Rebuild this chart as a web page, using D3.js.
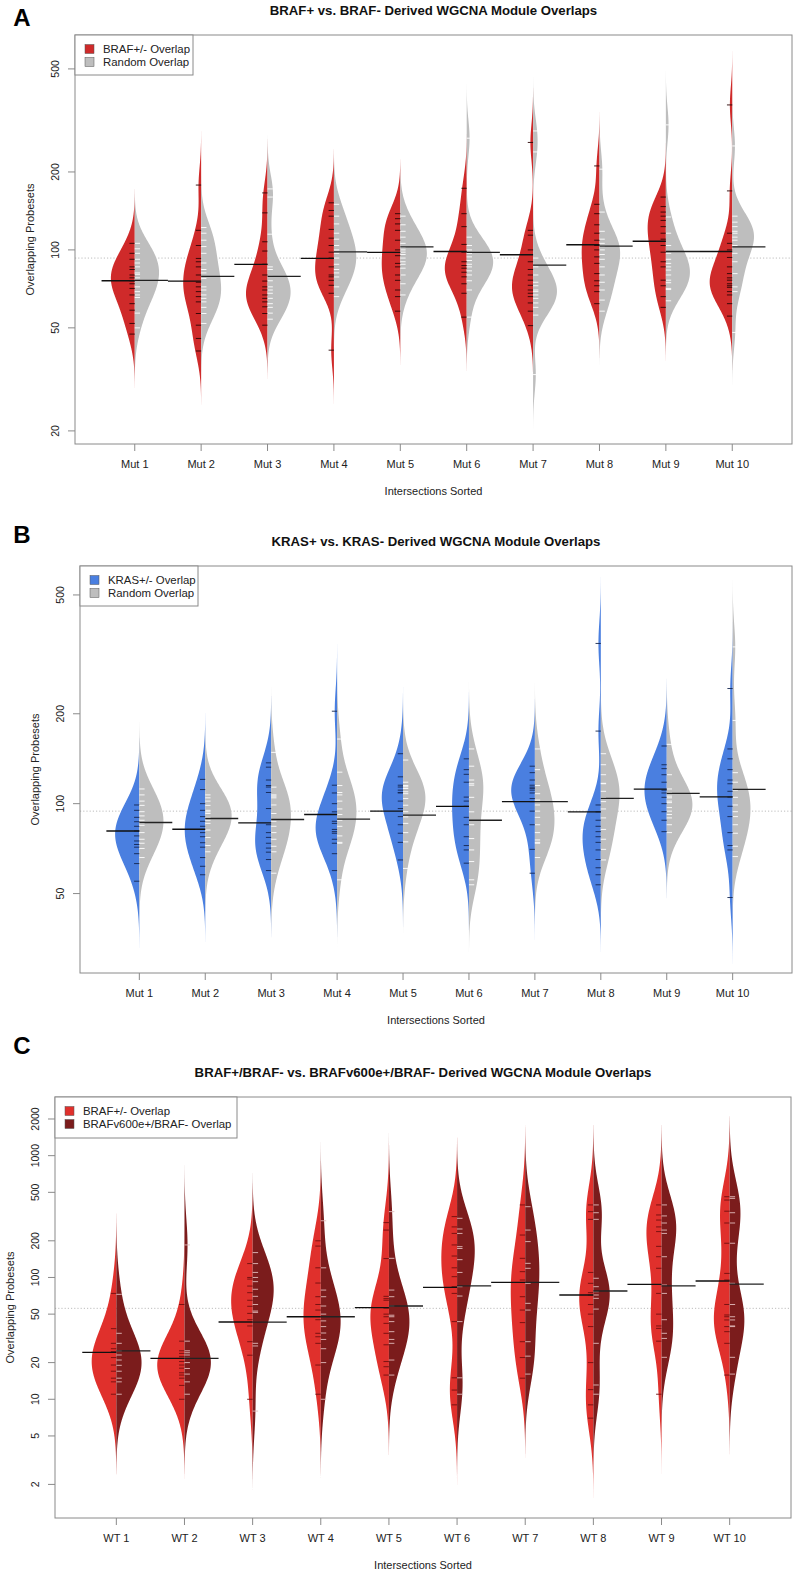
<!DOCTYPE html>
<html><head><meta charset="utf-8">
<script src="https://cdn.jsdelivr.net/npm/d3@7"></script>
<style>
body{margin:0;background:#fff;}
text{font-family:"Liberation Sans",Arial,Helvetica,sans-serif;fill:#222;}
</style>
</head><body>
<svg id="chart" width="795" height="1574"></svg>
<script>
// ---------------- DATA ----------------
const mutCats = ["Mut 1","Mut 2","Mut 3","Mut 4","Mut 5","Mut 6","Mut 7","Mut 8","Mut 9","Mut 10"];
const wtCats  = ["WT 1","WT 2","WT 3","WT 4","WT 5","WT 6","WT 7","WT 8","WT 9","WT 10"];
const yTicksA = [20,50,100,200,500];
const yTicksB = [50,100,200,500];
const yTicksC = [2,5,10,20,50,100,200,500,1000,2000];

// Panel A: BRAF+/- overlap vs random overlap
const brafA = [
 [106,97,92,86,84,80,78,76,74,71,67,62,58.5,52,47.3],
 [178,119,104,92.7,90,86,80,75,72,69,66,63,56.8,51.2,45.5,40.7],
 [166,139,107.5,99,88,80,75.8,72,70,67,65,63,60.3,56.8,51.2],
 [152,142,135,120,111,104,98,93,86,80,78.7,76.3,73,68,41],
 [138,132,126,119,109,100,95,88.7,86,80,76.3,70,66,58],
 [173,138,123,105,98,90,87,85,82,78.7,74,68,55],
 [260,119,114,100,90,84,80,76.4,73,70,68,66,62.4,58,51],
 [211,150,138,125,116,109,104,100,94,88.7,81,76,72.7,69,62],
 [160,147,140,135,130,123,116,110,104,98,90,86,76.4,72.7,66,60],
 [363,169,116,106,100,93.5,86,81,78,76.4,74,72.7,71.7,69,67,62,55.5]
];
const randomA = [
 [106,101,97,92,89,86,81.5,80.5,78,72,69,67,65.5,57,50],
 [122,116,109,103,97,89,84,81.5,77.6,72,70,67,65,63,60,56.8,52],
 [172,160,115,86,84,79,76,72,70,68,65,62,60,57,54],
 [150,135,126,116,110,104,100,97,93,88,84,81.5,78.6,72,66],
 [135,125,118,112,106,102,100,98,96,93,90,88,85,80,74,67],
 [270,112,104,100,97,94,91,88,86,83,80,76,70,55],
 [288,239,93,86,80,75,72.7,70,69,67,65,62.4,60,56,33],
 [205,140,118,110,106,103,100,96,92,86,80,75,70,64,58],
 [304,134,116,104,97,92,88.7,86,83.6,80,76.4,74.7,71,70.3,63.6],
 [252,135,128,123,118,116,112,109,104,97,90,81,72,69,48]
];
const brafMeanA   = [76,75.8,88,92.7,97.8,98.6,95.8,104.7,108,98.6];
const randomMeanA = [76.3,79,79,98.3,102.8,97.8,87.4,103.5,98.6,102.8];
const overallA = 93;
const legendA = ["BRAF+/- Overlap","Random Overlap"];

// Panel B: KRAS+/- overlap vs random overlap
const krasB = [
 [99,95,90,87,84,81,78,75,73,71.5,68,63,55],
 [120.6,111.5,100,95,90.5,87.3,84,80,77.5,74,71.5,66,61.7,57.8],
 [137,132.5,120,115,113.7,109,96.3,85,80,77.1,73.7,71,68.8,65,59.7],
 [204,115.3,108.6,100,93.9,87.3,85.9,82,80.6,79.6,76,73.7,68,59.7],
 [147,123,115.3,113.7,111,109,108.6,102,96.3,90.5,85,79.6,74.2,64.8],
 [141.3,130,125.4,118,105.2,102,98,90,85,77.5,72.4,70,63.2],
 [133.5,127,120,115.3,113.6,112.5,111,108.6,104,101.6,94.4,85,70.3,58.5],
 [344,175,99,93.9,88,84,80.6,77.5,74.2,70,65,61,57.8,53.5],
 [156,135,131,125,118,111,108.6,105,100,94,88,80.6],
 [243,152.5,141.3,130,120,116.6,110,105.2,98,90.5,80,72.4,70,48.5]
];
const randomB = [
 [112,107,102,98.7,94,91,88,86,84.6,80,76,73.7,70.8,66],
 [107,104.6,102,98.7,95,93.9,92.7,90,88,85.9,81.6,77,72.4,69],
 [148.5,113.6,107,106,104.6,99,92.7,87.3,84,80,76,72,69,58.5],
 [164.6,127.5,115,109,107,102,96,92,88,84,78,74.2,73.7,55.6],
 [140,118,115,113.9,112.4,109.6,108,104,98.8,94,90.3,85.9,80,74.5,60.7],
 [152.5,133.5,120,116.6,115.3,105,93.9,85,76.4,70,64,55.6,53.5],
 [152.5,130,115,108,102.8,99,94.4,90,85,80,75.6,74.2,73.7,66],
 [147,135,125,117,116.6,110,104.6,101.6,96,89.6,82,76,70.3,64.8],
 [158,125,112,108.6,106,104.6,102,100.8,97,94.4,92,89.6,85,80],
 [335,190,127,118,111,105,99,94,90.5,85,79.6,72,66.5]
];
const krasMeanB   = [81,82.1,86.3,92,94.4,98,101.6,93.9,111.8,105.4];
const randomMeanB = [86.5,89.2,88.5,88.7,91.5,88,101.6,104.1,108.2,111.6];
const overallB = 94.4;
const legendB = ["KRAS+/- Overlap","Random Overlap"];

// Panel C: BRAF+/- overlap vs BRAFv600e+/BRAF- overlap
const brafC = [
 [74,38,28.8,26,24.6,22,19.1,17,14.9,13.9,11],
 [60,30,25,23.8,22.5,21.7,20.4,19.1,18,16.5,15.8,14.9,13,10],
 [130,100,97,85,75,65,58,50.7,45,40,29.7,23,10],
 [200,181,120,90,69.5,60,54,45,34.8,32.6,28.8,19.1,11],
 [282,245,143,70,67,65,56,50,47.6,42,34.8,28,20.4,18.5,15.8],
 [316,260,230,185,150,120,101.5,84,74,43.4,15,11.9,9],
 [394,223,143.6,111.6,95.3,69.5,54,42.6,29.7,22,14.9],
 [394,347,300,110,89.5,75,71.8,60,50,39.5,20,12,9,7],
 [394,326,296,260,238,180,148,119,74,50,40,38.2,30,11],
 [460,432,350,280,191,108,95.3,60,49.2,47.6,44.8,39.5,35.9,28.8,15.8]
];
const v600C = [
 [72.7,34.8,28.8,25,23.1,21,19,17,14.9,13.9,11],
 [185,30,25,24.1,23.1,21.7,20,17.9,16.1,13.9,11],
 [160,130,110,100,92.4,80,70,60,53,51.7,28.8,27.4,8],
 [292,120,78.8,69.5,58.3,50,44,39.5,35,31,26,20,10],
 [347,143.6,78.8,69.5,58.3,49,47.6,43.4,35.9,31,28.8,21,15.8],
 [306,250,230,179,173,140,110,84,70.4,43.4,15,11],
 [381,245,197,130.6,118.9,89.5,61.3,54,29.7,22.6,16.1],
 [394,340,300,98.5,84,76.4,71.8,67.4,55,28.8,13.1,11],
 [394,320,280,245,230,148,86.7,74,45,34.8,31.6,22.1],
 [460,446,340,280,191,89.5,60,47.6,44.8,40,39.5,22.1,16.1]
];
const brafMeanC = [24.3,21.7,43.1,47.6,56.5,83,91.3,71.8,87.8,93.5];
const v600MeanC = [25,21.7,43,47.6,58.3,85.2,91.3,77.4,85.2,88.3];
const overallC = 55.8;
const legendC = ["BRAF+/- Overlap","BRAFv600e+/BRAF- Overlap"];

// ---------------- LAYOUT / STYLE ----------------
const panels = [
 {letter:"A", letterY:18, title:"BRAF+ vs. BRAF- Derived WGCNA Module Overlaps",
  cats:mutCats, L:brafA, R:randomA, Lm:brafMeanA, Rm:randomMeanA, overall:overallA,
  ticks:yTicksA, legend:legendA, box:{l:75,t:35,r:792,b:444}, yDom:[17.8,676], bw:0.07,
  fill:["#cf2a2a","#bebebe"], tick:["#2a0505","#ffffff"], legW:118, legH:40},
 {letter:"B", letterY:535, title:"KRAS+ vs. KRAS- Derived WGCNA Module Overlaps",
  cats:mutCats, L:krasB, R:randomB, Lm:krasMeanB, Rm:randomMeanB, overall:overallB,
  ticks:yTicksB, legend:legendB, box:{l:80,t:566,r:792,b:973}, yDom:[27.1,625], bw:0.075,
  fill:["#4a7fe0","#bebebe"], tick:["#142650","#ffffff"], legW:118, legH:40},
 {letter:"C", letterY:1046, title:"BRAF+/BRAF- vs. BRAFv600e+/BRAF- Derived WGCNA Module Overlaps",
  cats:wtCats, L:brafC, R:v600C, Lm:brafMeanC, Rm:v600MeanC, overall:overallC,
  ticks:yTicksC, legend:legendC, box:{l:55,t:1097,r:791,b:1518}, yDom:[1.06,3031], bw:0.22,
  fill:["#e0302c","#7b1c1c"], tick:["#6e0f0f","#e2bcbc"], legW:182, legH:41}
];

const svg = d3.select("#chart");
const axisCol = "#8a8a8a";

function kde(vals, h){
  const t = vals.map(v=>Math.log10(v));
  const lo = d3.min(t)-3*h, hi = d3.max(t)+3*h, n = 240;
  const out = [];
  for(let i=0;i<=n;i++){
    const x = lo+(hi-lo)*i/n;
    let s = 0;
    for(const ti of t){ const z=(x-ti)/h; s+=Math.exp(-0.5*z*z); }
    out.push([x, s/(t.length*h*Math.sqrt(2*Math.PI))]);
  }
  return out;
}

panels.forEach(p=>{
  const b = p.box;
  const g = svg.append("g");
  const x = d3.scaleLinear().domain([0.1,10.9]).range([b.l,b.r]);
  const y = d3.scaleLog().domain(p.yDom).range([b.b,b.t]);
  const unit = x(1)-x(0);

  // letter & title
  g.append("text").attr("x",22).attr("y",p.letterY).attr("dy","0.35em")
   .attr("text-anchor","middle").style("font-size","24px").style("font-weight","bold").style("fill","#000").text(p.letter);
  g.append("text").attr("x",(b.l+b.r)/2).attr("y",b.t-25).attr("dy","0.35em")
   .attr("text-anchor","middle").style("font-size","13.2px").style("font-weight","bold").style("fill","#111").text(p.title);

  // overall dotted line
  g.append("line").attr("x1",b.l).attr("x2",b.r).attr("y1",y(p.overall)).attr("y2",y(p.overall))
   .attr("stroke","#bdbdbd").attr("stroke-width",1).attr("stroke-dasharray","1.2,2");

  // densities
  const dens = p.cats.map((c,i)=>[kde(p.L[i],p.bw), kde(p.R[i],p.bw)]);
  const maxD = d3.max(dens.flat(), d=>d3.max(d, e=>e[1]));
  const half = 0.4;

  p.cats.forEach((c,i)=>{
    const cx = x(i+1);
    [0,1].forEach(s=>{
      const sign = s===0?-1:1;
      const d = dens[i][s];
      const pts = [[cx, y(Math.pow(10,d[0][0]))]]
        .concat(d.map(e=>[cx+sign*e[1]/maxD*half*unit, y(Math.pow(10,e[0]))]))
        .concat([[cx, y(Math.pow(10,d[d.length-1][0]))]]);
      g.append("path").attr("d", d3.line()(pts)+"Z").attr("fill",p.fill[s]).attr("stroke","none");
    });
  });
  // data ticks
  p.cats.forEach((c,i)=>{
    const cx = x(i+1);
    [[p.L[i],-1,0],[p.R[i],1,1]].forEach(([vals,sign,s])=>{
      g.selectAll(null).data(vals).enter().append("line")
        .attr("x1",cx).attr("x2",cx+sign*0.08*unit)
        .attr("y1",v=>y(v)).attr("y2",v=>y(v))
        .attr("stroke",p.tick[s]).attr("stroke-width",0.9);
    });
  });
  // mean lines
  p.cats.forEach((c,i)=>{
    const cx = x(i+1);
    g.append("line").attr("x1",cx-0.5*unit).attr("x2",cx).attr("y1",y(p.Lm[i])).attr("y2",y(p.Lm[i]))
     .attr("stroke","#111").attr("stroke-width",1.3);
    g.append("line").attr("x1",cx).attr("x2",cx+0.5*unit).attr("y1",y(p.Rm[i])).attr("y2",y(p.Rm[i]))
     .attr("stroke","#222").attr("stroke-width",1.3);
  });

  // frame
  g.append("rect").attr("x",b.l).attr("y",b.t).attr("width",b.r-b.l).attr("height",b.b-b.t)
   .attr("fill","none").attr("stroke",axisCol).attr("stroke-width",1);

  // y axis
  const ya = g.append("g");
  p.ticks.forEach(v=>{
    ya.append("line").attr("x1",b.l-7).attr("x2",b.l).attr("y1",y(v)).attr("y2",y(v)).attr("stroke",axisCol);
    ya.append("text").attr("transform",`translate(${b.l-20},${y(v)}) rotate(-90)`)
      .attr("text-anchor","middle").attr("dy","0.35em").style("font-size","10.5px").text(v);
  });
  g.append("text").attr("transform",`translate(${b.l-45},${(b.t+b.b)/2}) rotate(-90)`)
   .attr("text-anchor","middle").attr("dy","0.35em").style("font-size","11px").text("Overlapping Probesets");

  // x axis
  p.cats.forEach((c,i)=>{
    const cx = x(i+1);
    g.append("line").attr("x1",cx).attr("x2",cx).attr("y1",b.b).attr("y2",b.b+7).attr("stroke",axisCol);
    g.append("text").attr("x",cx).attr("y",b.b+20).attr("dy","0.35em").attr("text-anchor","middle")
     .style("font-size","11px").text(c);
  });
  g.append("text").attr("x",(b.l+b.r)/2).attr("y",b.b+47).attr("dy","0.35em").attr("text-anchor","middle")
   .style("font-size","11px").text("Intersections Sorted");

  // legend
  const lg = g.append("g");
  lg.append("rect").attr("x",b.l).attr("y",b.t).attr("width",p.legW).attr("height",p.legH)
    .attr("fill","#fff").attr("stroke",axisCol);
  p.legend.forEach((t,k)=>{
    const yy = b.t+14+k*13;
    lg.append("rect").attr("x",b.l+10).attr("y",yy-4.5).attr("width",9).attr("height",9)
      .attr("fill",p.fill[k]).attr("stroke","#555").attr("stroke-width",0.5);
    lg.append("text").attr("x",b.l+28).attr("y",yy).attr("dy","0.35em").style("font-size","11.4px").text(t);
  });
});
</script>
</body></html>
